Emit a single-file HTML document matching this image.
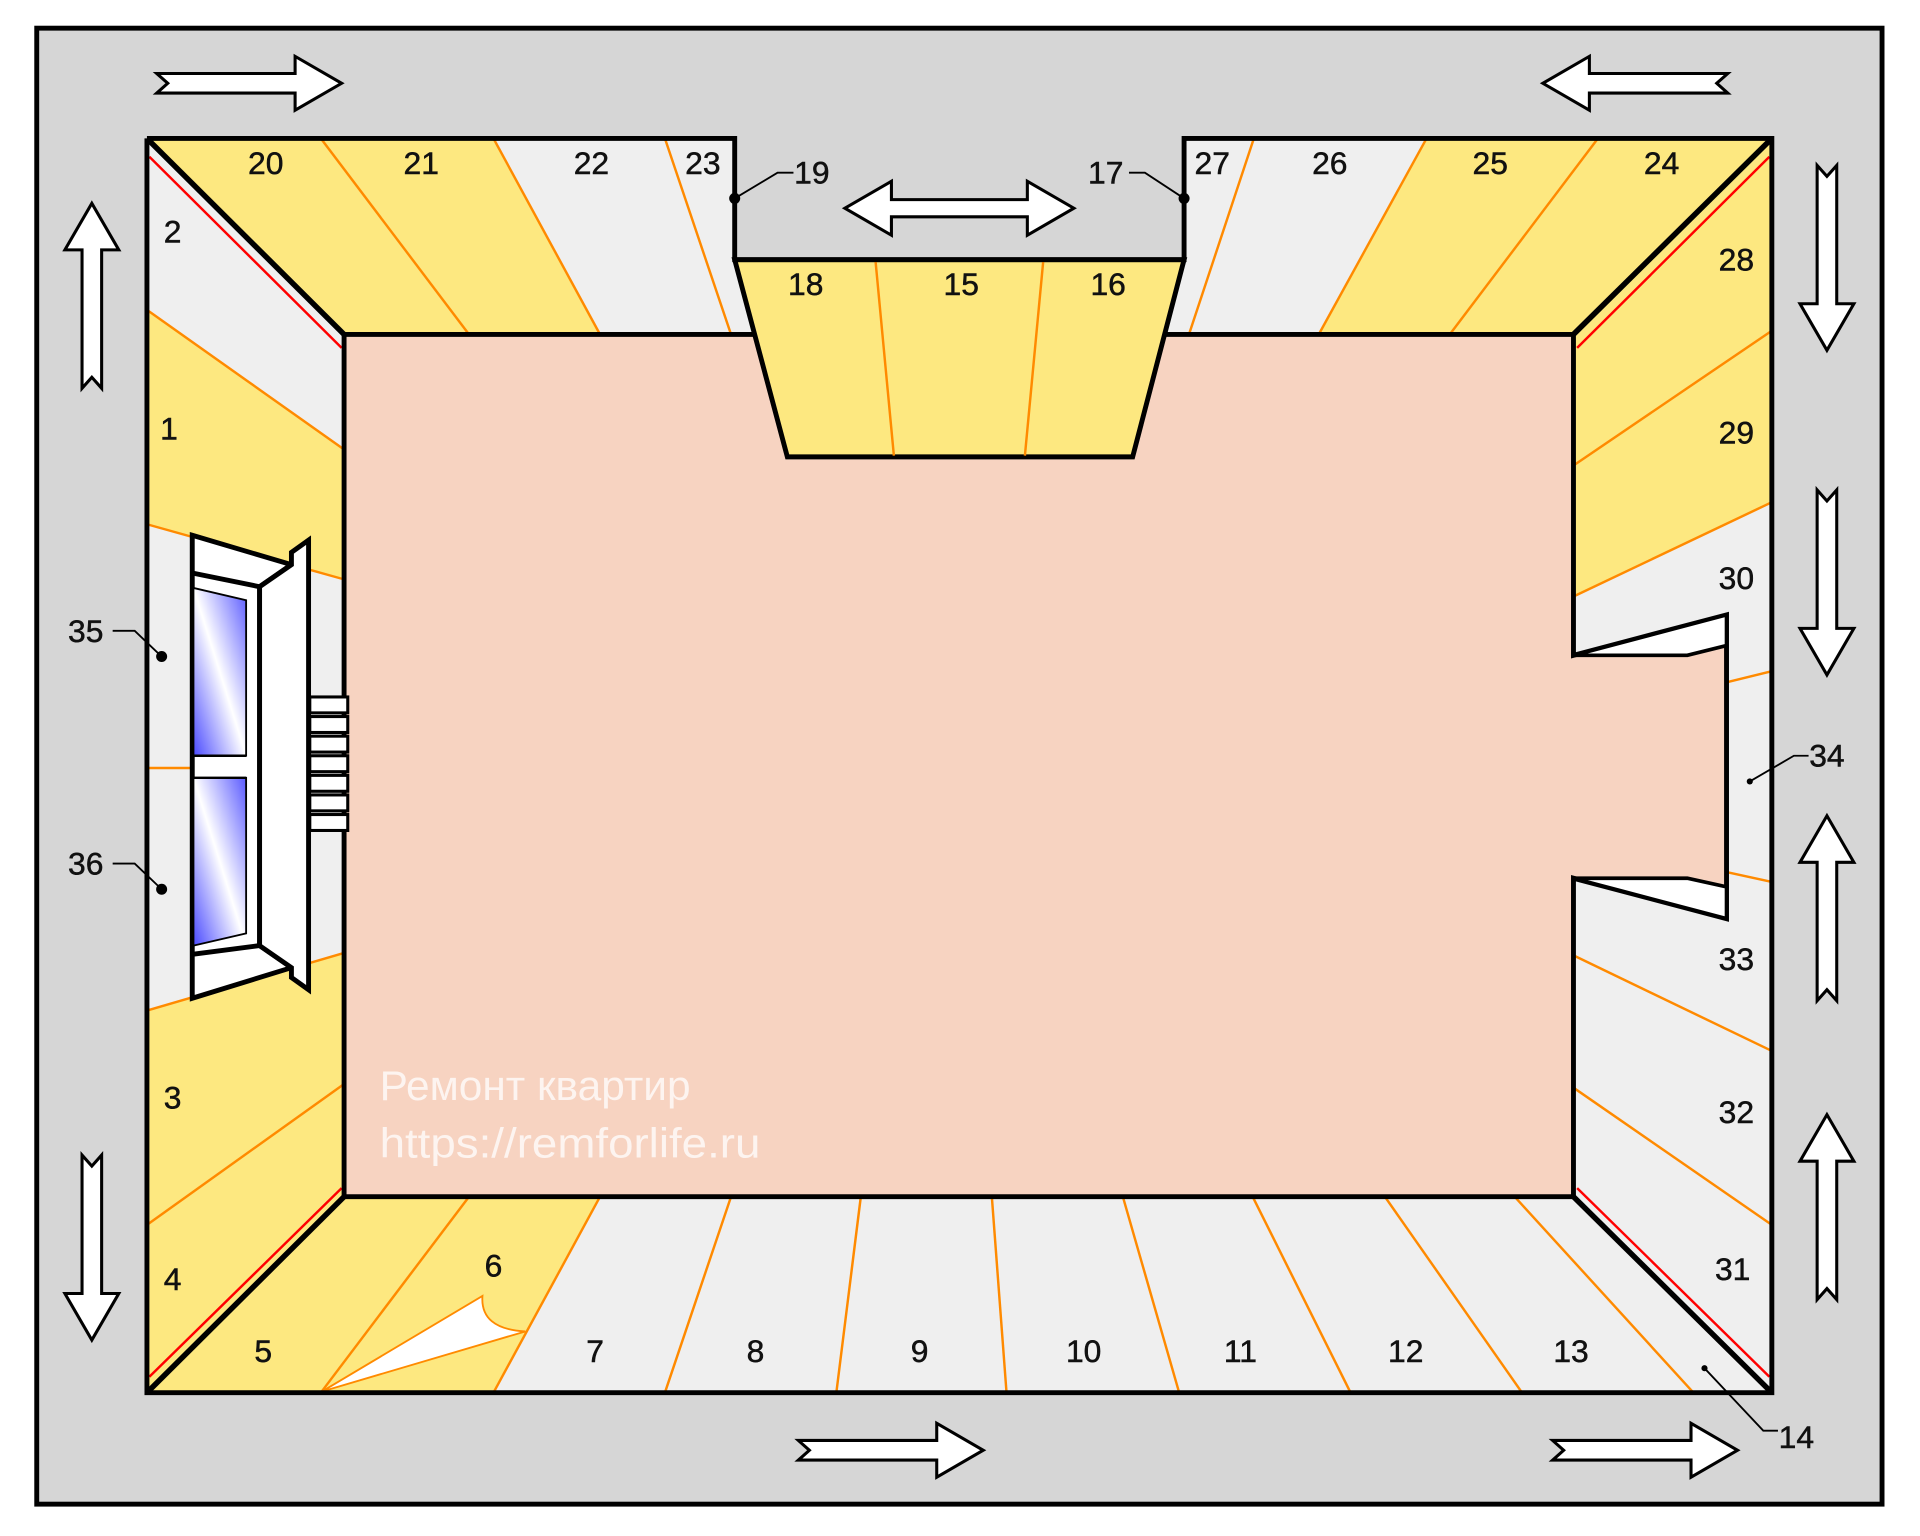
<!DOCTYPE html>
<html><head><meta charset="utf-8"><style>
html,body{margin:0;padding:0;background:#fff;}
svg{display:block;}
text{font-family:"Liberation Sans",sans-serif;}
.n{font-size:26px;fill:#111;text-anchor:middle;dominant-baseline:central;stroke:#111;stroke-width:0.4;}
.o{stroke:#ff8a00;stroke-width:2;fill:none;}
.r{stroke:#ff0000;stroke-width:2;fill:none;}
.a{fill:#fff;stroke:#000;stroke-width:2.5;stroke-linejoin:miter;}
</style></head><body>
<svg width="1920" height="1536" viewBox="0 0 1568 1254" preserveAspectRatio="none" xmlns="http://www.w3.org/2000/svg">
<defs>
<linearGradient id="gl" x1="0" y1="1" x2="1" y2="0">
<stop offset="0" stop-color="#4a4aff"/><stop offset="0.5" stop-color="#ffffff"/><stop offset="1" stop-color="#5a5aff"/>
</linearGradient>
<path id="ar" d="M0,-8 L113,-8 L113,-22 L151,0 L113,22 L113,8 L0,8 L9,0 Z"/>
</defs>
<rect x="0" y="0" width="1568" height="1254" fill="#fff"/>
<rect x="30" y="23" width="1507" height="1205" fill="#d6d6d6" stroke="#000" stroke-width="4"/>

<polygon points="120,113 600,113 600,212 967,212 967,113 1447,113 1447,1137 120,1137" fill="#efefef"/>
<g fill="#fde880">
<polygon points="120,113 403,113 490,273 281,273"/>
<polygon points="1165,113 1447,113 1285,273 1077,273"/>
<polygon points="120,253 281,367 281,473 120,428"/>
<polygon points="120,825 281,778 281,977 120,1137"/>
<polygon points="1447,113 1447,410 1285,487 1285,273"/>
<polygon points="120,1137 281,977 490,977 403,1137"/>
</g>
<g class="o">
<line x1="262" y1="113" x2="383" y2="273"/><line x1="403" y1="113" x2="490" y2="273"/><line x1="543" y1="113" x2="597" y2="273"/>
<line x1="1024" y1="113" x2="971" y2="273"/><line x1="1165" y1="113" x2="1077" y2="273"/><line x1="1305" y1="113" x2="1184" y2="273"/>
<line x1="120" y1="253" x2="281" y2="367"/><line x1="120" y1="428" x2="281" y2="473"/><line x1="120" y1="627" x2="157" y2="627"/>
<line x1="120" y1="825" x2="281" y2="778"/><line x1="120" y1="1000" x2="281" y2="885"/>
<line x1="1447" y1="270" x2="1285" y2="380"/><line x1="1447" y1="410" x2="1285" y2="487"/><line x1="1447" y1="548" x2="1410" y2="557"/>
<line x1="1447" y1="720" x2="1410" y2="712"/><line x1="1447" y1="858" x2="1285" y2="780"/><line x1="1447" y1="1000" x2="1285" y2="888"/>
<line x1="383" y1="977" x2="262" y2="1137"/><line x1="490" y1="977" x2="403" y2="1137"/><line x1="597" y1="977" x2="543" y2="1137"/>
<line x1="703" y1="977" x2="683" y2="1137"/><line x1="810" y1="977" x2="822" y2="1137"/><line x1="917" y1="977" x2="963" y2="1137"/>
<line x1="1023" y1="977" x2="1103" y2="1137"/><line x1="1131" y1="977" x2="1243" y2="1137"/><line x1="1237" y1="977" x2="1383" y2="1137"/>
</g>
<path d="M263,1136 L394,1058 Q392,1085 429,1087 Z" fill="#fff" stroke="#ff8a00" stroke-width="1.5"/>
<g class="r">
<line x1="122" y1="128" x2="279" y2="284"/><line x1="122" y1="1124" x2="279" y2="970"/>
<line x1="1445" y1="128" x2="1288" y2="284"/><line x1="1445" y1="1124" x2="1288" y2="970"/>
</g>
<polygon points="281,273 1285,273 1285,535 1410,502 1410,750 1285,717 1285,977 281,977" fill="#f7d3c1" stroke="#000" stroke-width="4"/>
<polygon points="1285,535 1410,502 1410,527 1378,535" fill="#fff" stroke="#000" stroke-width="3"/>
<polygon points="1285,717 1378,717 1410,724 1410,750" fill="#fff" stroke="#000" stroke-width="3"/>
<polygon points="600,212 967,212 925,373 643,373" fill="#fde880" stroke="#000" stroke-width="4"/>
<line class="o" x1="715" y1="213" x2="730" y2="372"/><line class="o" x1="852" y1="213" x2="837" y2="372"/>
<polyline points="120,113 600,113 600,212 967,212 967,113 1447,113 1447,1137 120,1137 120,113" fill="none" stroke="#000" stroke-width="4"/>
<g stroke="#000" stroke-width="4.5">
<line x1="120" y1="113" x2="281" y2="273"/><line x1="1447" y1="113" x2="1285" y2="273"/>
<line x1="120" y1="1137" x2="281" y2="977"/><line x1="1447" y1="1137" x2="1285" y2="977"/>
</g>
<!-- window -->
<g stroke="#000" stroke-linejoin="miter">
<polygon points="157,437 238,461 212,479 212,772 238,790 157,815" fill="#fff" stroke-width="4"/>
<polyline points="158,468 212,479" fill="none" stroke-width="4"/>
<polyline points="158,779 212,772" fill="none" stroke-width="4"/>
<polygon points="158,480 201,490 201,617 158,617" fill="url(#gl)" stroke-width="1.5"/>
<polygon points="158,635 201,635 201,762 158,772" fill="url(#gl)" stroke-width="1.5"/>
<line x1="158" y1="617" x2="201" y2="617" stroke-width="2"/><line x1="158" y1="635" x2="201" y2="635" stroke-width="2"/>
<polygon points="212,479 238,461 238,451 252,441 252,808 238,798 238,790 212,772" fill="#fff" stroke-width="4"/>
<g fill="#fff" stroke-width="2.5">
<rect x="253" y="569" width="31" height="13"/><rect x="253" y="585" width="31" height="13"/><rect x="253" y="601" width="31" height="13"/>
<rect x="253" y="617" width="31" height="13"/><rect x="253" y="633" width="31" height="13"/><rect x="253" y="649" width="31" height="13"/>
<rect x="253" y="665" width="31" height="13"/>
</g>
</g>
<g class="a">
<use href="#ar" transform="translate(128,68)"/>
<use href="#ar" transform="translate(1411,68) rotate(180)"/>
<use href="#ar" transform="translate(652,1184)"/>
<use href="#ar" transform="translate(1268,1184)"/>
<use href="#ar" transform="translate(75,317) rotate(-90)"/>
<use href="#ar" transform="translate(75,943) rotate(90)"/>
<use href="#ar" transform="translate(1492,135) rotate(90)"/>
<use href="#ar" transform="translate(1492,400) rotate(90)"/>
<use href="#ar" transform="translate(1492,817) rotate(-90)"/>
<use href="#ar" transform="translate(1492,1061) rotate(-90)"/>
<path d="M690,170 L728,148 L728,163 L839,163 L839,148 L877,170 L839,192 L839,177 L728,177 L728,192 Z"/>
</g>
<g stroke="#000" stroke-width="1.5" fill="none">
<polyline points="600,162 635,141 648,141"/><polyline points="967,162 935,141 922,141"/>
<polyline points="132,536 110,515 92,515"/><polyline points="132,726 110,705 92,705"/>
<polyline points="1429,638 1465,617 1477,617"/><polyline points="1392,1117 1440,1168 1452,1168"/>
</g>
<g fill="#000">
<circle cx="600" cy="162" r="4.5"/><circle cx="967" cy="162" r="4.5"/>
<circle cx="132" cy="536" r="4.5"/><circle cx="132" cy="726" r="4.5"/>
<circle cx="1429" cy="638" r="2.5"/><circle cx="1392" cy="1117" r="2.5"/>
</g>
<g class="n">
<text x="217" y="133">20</text><text x="344" y="133">21</text><text x="483" y="133">22</text><text x="574" y="133">23</text>
<text x="663" y="141">19</text><text x="903" y="141">17</text>
<text x="990" y="133">27</text><text x="1086" y="133">26</text><text x="1217" y="133">25</text><text x="1357" y="133">24</text>
<text x="658" y="232">18</text><text x="785" y="232">15</text><text x="905" y="232">16</text>
<text x="141" y="189">2</text><text x="138" y="350">1</text><text x="141" y="896">3</text><text x="141" y="1044">4</text>
<text x="70" y="515">35</text><text x="70" y="705">36</text>
<text x="215" y="1103">5</text><text x="403" y="1033">6</text><text x="486" y="1103">7</text><text x="617" y="1103">8</text>
<text x="751" y="1103">9</text><text x="885" y="1103">10</text><text x="1013" y="1103">11</text><text x="1148" y="1103">12</text>
<text x="1283" y="1103">13</text><text x="1467" y="1173">14</text>
<text x="1418" y="212">28</text><text x="1418" y="353">29</text><text x="1418" y="472">30</text><text x="1492" y="617">34</text>
<text x="1418" y="783">33</text><text x="1418" y="908">32</text><text x="1415" y="1036">31</text>
</g>
<g fill="#ffffff" fill-opacity="0.75" font-size="34">
<text x="310" y="898" textLength="254" lengthAdjust="spacingAndGlyphs">Ремонт квартир</text>
<text x="310" y="945" textLength="311" lengthAdjust="spacingAndGlyphs">https://remforlife.ru</text>
</g>
</svg>
</body></html>
